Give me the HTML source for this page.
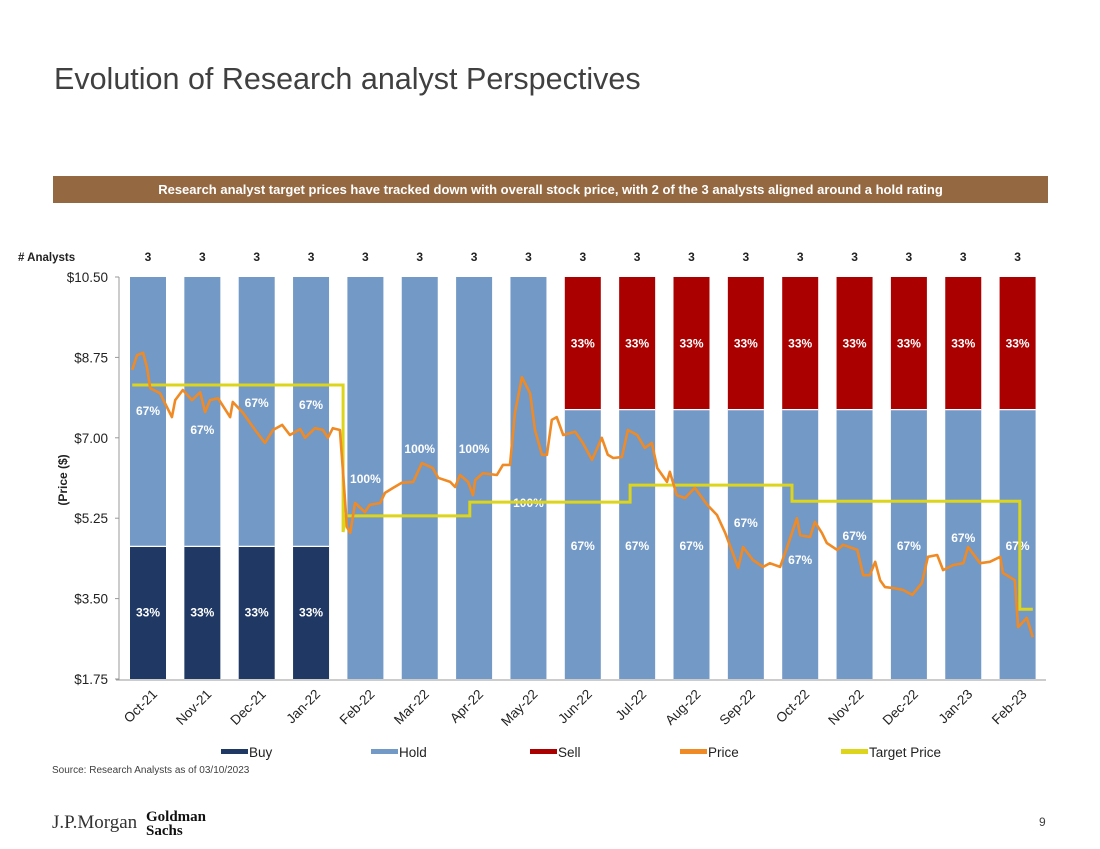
<!DOCTYPE html>
<html><head><meta charset="utf-8"><style>
body{margin:0;background:#fff;font-family:"Liberation Sans",Arial,sans-serif;}
#wrap{position:relative;width:1100px;height:849px;overflow:hidden;}
</style></head><body>
<div id="wrap">
<div style="position:absolute;left:54px;top:62px;font-size:30.5px;color:#404040;">Evolution of Research analyst Perspectives</div>
<div style="position:absolute;left:53px;top:176px;width:995px;height:27px;background:#946841;color:#fff;font-weight:bold;font-size:13px;text-align:center;line-height:27px;">Research analyst target prices have tracked down with overall stock price, with 2 of the 3 analysts aligned around a hold rating</div>
<svg id="chart" width="1100" height="849" style="position:absolute;left:0;top:0" font-family="Liberation Sans, Arial, sans-serif"></svg>
<div style="position:absolute;left:52px;top:765px;font-size:10px;color:#404040;">Source: Research Analysts as of 03/10/2023</div>
<div style="position:absolute;left:52px;top:812px;font-family:'Liberation Serif',serif;font-size:19px;color:#333;">J.P.Morgan</div>
<div style="position:absolute;left:146px;top:810px;font-family:'Liberation Serif',serif;font-weight:bold;font-size:15px;line-height:14px;color:#111;">Goldman<br>Sachs</div>
<div style="position:absolute;left:1039px;top:815px;font-size:12px;color:#404040;">9</div>
</div>
<script>
const months=["Oct-21","Nov-21","Dec-21","Jan-22","Feb-22","Mar-22","Apr-22","May-22","Jun-22","Jul-22","Aug-22","Sep-22","Oct-22","Nov-22","Dec-22","Jan-23","Feb-23"];
const analysts=[3,3,3,3,3,3,3,3,3,3,3,3,3,3,3,3,3];
const buyPct=[33,33,33,33,0,0,0,0,0,0,0,0,0,0,0,0,0];
const holdPct=[67,67,67,67,100,100,100,100,67,67,67,67,67,67,67,67,67];
const sellPct=[0,0,0,0,0,0,0,0,33,33,33,33,33,33,33,33,33];
const yTicks=[1.75,3.5,5.25,7,8.75,10.5];
const priceT=[-0.29,-0.20,-0.09,-0.02,0.04,0.22,0.44,0.50,0.64,0.81,0.96,1.05,1.14,1.29,1.51,1.56,1.75,1.97,2.15,2.30,2.47,2.61,2.80,2.89,3.07,3.22,3.31,3.40,3.53,3.59,3.66,3.72,3.81,3.99,4.08,4.27,4.36,4.51,4.67,4.88,5.04,5.24,5.34,5.56,5.65,5.74,5.89,5.98,6.02,6.16,6.42,6.53,6.66,6.75,6.88,7.03,7.12,7.25,7.34,7.43,7.52,7.64,7.86,8.00,8.17,8.35,8.46,8.56,8.72,8.83,9.00,9.14,9.27,9.37,9.55,9.60,9.73,9.88,10.06,10.29,10.47,10.62,10.76,10.86,10.95,11.13,11.32,11.44,11.63,11.76,11.94,12.00,12.18,12.27,12.40,12.49,12.68,12.79,13.05,13.16,13.28,13.38,13.47,13.56,13.71,13.89,14.06,14.24,14.35,14.52,14.63,14.81,15.00,15.09,15.31,15.49,15.68,15.73,15.95,16.01,16.17,16.28];
const priceV=[8.48,8.80,8.85,8.54,8.08,7.97,7.45,7.82,8.04,7.82,7.99,7.56,7.82,7.86,7.45,7.78,7.54,7.17,6.89,7.17,7.28,7.06,7.19,7.00,7.21,7.17,7.00,7.21,7.17,6.23,5.06,4.93,5.58,5.38,5.54,5.58,5.80,5.91,6.02,6.04,6.45,6.34,6.13,6.04,5.93,6.19,6.04,5.75,6.08,6.23,6.19,6.41,6.41,7.54,8.32,7.97,7.17,6.63,6.63,7.39,7.45,7.06,7.13,6.89,6.52,7.00,6.63,6.56,6.58,7.17,7.06,6.78,6.89,6.34,6.04,6.26,5.75,5.69,5.91,5.54,5.32,4.93,4.49,4.17,4.62,4.34,4.19,4.27,4.19,4.62,5.25,4.88,4.84,5.17,4.93,4.71,4.56,4.67,4.56,4.01,4.01,4.30,3.90,3.75,3.73,3.69,3.58,3.84,4.41,4.45,4.12,4.23,4.27,4.62,4.27,4.30,4.41,4.06,3.90,2.88,3.08,2.66];
const targetT=[-0.29,3.59,3.59,3.64,5.92,5.92,8.87,8.87,11.85,11.85,16.04,16.04,16.28];
const targetV=[8.15,8.15,4.95,5.30,5.30,5.60,5.60,5.97,5.97,5.62,5.62,3.27,3.27];
// label placement (pixel y of hold labels, layout only)
const holdLabelY=[411,430,403,405,479,449,449,503,546,546,546,523,560,536,546,538,546];

const svg=document.getElementById('chart');
const NS='http://www.w3.org/2000/svg';
const X0=148,STEP=54.35,BW=36,YT=277,YB=679,YMIN=1.75,YMAX=10.5;
const x=t=>X0+t*STEP;
const y=v=>YB-(v-YMIN)/(YMAX-YMIN)*(YB-YT);
const pctY=p=>YB-p/100*(YB-YT);
function el(tag,attrs,text){const e=document.createElementNS(NS,tag);for(const k in attrs)e.setAttribute(k,attrs[k]);if(text!=null)e.textContent=text;svg.appendChild(e);return e;}

let a=el('line',{x1:119,y1:277,x2:119,y2:680,stroke:'#999','stroke-width':1});


a=el('line',{x1:116,y1:680,x2:1046,y2:680,stroke:'#999','stroke-width':1});


yTicks.forEach(v=>{
  const tk=el('line',{x1:115,x2:119,y1:y(v),y2:y(v),stroke:'#999','stroke-width':1});
  
  
  const t=el('text',{x:108,y:y(v)+5,'text-anchor':'end','font-size':13.5,fill:'#222'},'$'+v.toFixed(2));
  
  
});
let yt=el('text',{x:0,y:0,'font-size':12,'font-weight':'bold',fill:'#222',transform:'translate(67,480) rotate(-90)','text-anchor':'middle'},'(Price ($)');


let an=el('text',{x:18,y:261,'font-size':11.5,'font-weight':'bold',fill:'#222'},'# Analysts');



months.forEach((m,i)=>{
  const cx=x(i),bx=cx-BW/2;
  let b=pctY(0);
  const segs=[[buyPct[i],'#1F3864','bar-buy'],[holdPct[i],'#7399C6','bar-hold'],[sellPct[i],'#AA0000','bar-sell']];
  segs.forEach(([p,c,n],k)=>{
    if(p<=0)return;
    const top=pctY(segs.slice(0,k+1).reduce((s,q)=>s+q[0],0));
    const r=el('rect',{x:bx,y:top,width:BW,height:b-top,fill:c});
    
    
    if(k>0&&segs.slice(0,k).some(q=>q[0]>0))el('line',{x1:bx,x2:bx+BW,y1:b,y2:b,stroke:'#fff','stroke-width':1.2});
    let ly=(k===1)?holdLabelY[i]:(b+top)/2;
    const lt=el('text',{x:cx,y:ly+4,'text-anchor':'middle','font-size':12,'font-weight':'bold',fill:'#fff'},p+'%');
    
    
    b=top;
  });
  const at=el('text',{x:cx,y:261,'text-anchor':'middle','font-size':12,'font-weight':'bold',fill:'#222'},analysts[i]);
  
  
  const xl=el('text',{x:0,y:0,'text-anchor':'end','font-size':13.5,fill:'#222',transform:`translate(${cx+10},${695}) rotate(-45)`},m);
  
  
});

function pathFrom(ts,vs){return ts.map((t,i)=>(i?'L':'M')+x(t).toFixed(1)+','+y(vs[i]).toFixed(1)).join(' ');}
const tp=el('path',{d:pathFrom(targetT,targetV),fill:'none',stroke:'#DDD41C','stroke-width':3});


const pp=el('path',{d:pathFrom(priceT,priceV),fill:'none',stroke:'#F08A24','stroke-width':2.6,'stroke-linejoin':'round'});



const leg=[['Buy','#1F3864',221],['Hold','#7399C6',371],['Sell','#AA0000',530],['Price','#F08A24',680],['Target Price','#DDD41C',841]];
leg.forEach(([n,c,lx])=>{
  const r=el('rect',{x:lx,y:749,width:27,height:5,fill:c});
  
  
  const t=el('text',{x:lx+28,y:757,'font-size':13.5,fill:'#222'},n);
  
  
});
</script>
</body></html>
